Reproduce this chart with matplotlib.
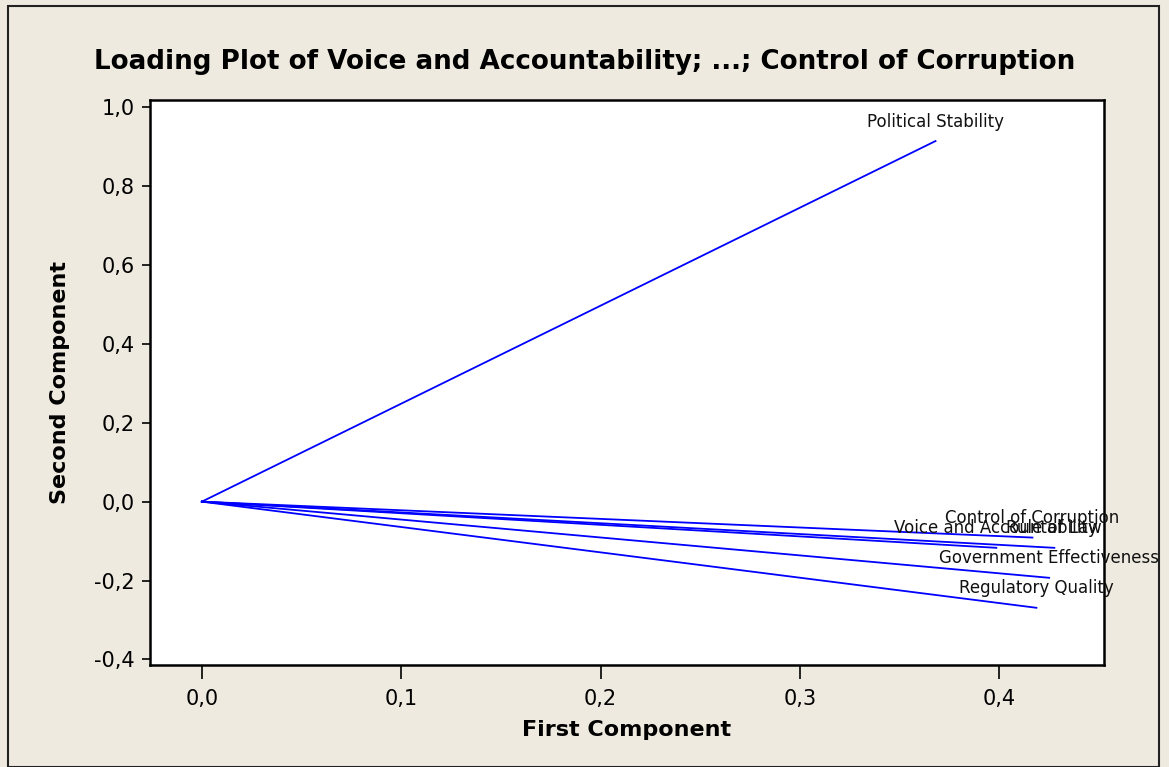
import matplotlib.pyplot as plt
from matplotlib.patches import Rectangle
from matplotlib.transforms import Bbox, TransformedBbox

# 载荷数据
variables = ['Voice and Accountability', 'Political Stability', 'Government Effectiveness',
             'Regulatory Quality', 'Rule of Law', 'Control of Corruption']
pc1 = [0.3985, 0.368, 0.425, 0.4186, 0.4276, 0.4166]
pc2 = [-0.117, 0.914, -0.193, -0.269, -0.117, -0.091]

x_ticks = [0.0, 0.1, 0.2, 0.3, 0.4]
y_ticks = [-0.4, -0.2, 0.0, 0.2, 0.4, 0.6, 0.8, 1.0]

title = 'Loading Plot of Voice and Accountability; ...; Control of Corruption'

bg = '#EEEAE0'
fig = plt.figure(figsize=(11.69, 7.67), dpi=100, facecolor=bg)

# 外框
fig.patches.append(Rectangle((8 / 1169, 0.0), 1151 / 1169, 761 / 767, transform=fig.transFigure,
                             fill=False, edgecolor='#222222', linewidth=1.5))

ax = fig.add_axes([150 / 1169, 102 / 767, 954 / 1169, 565 / 767])
ax.set_facecolor('white')

# 标签只在外框内裁剪
clip = TransformedBbox(Bbox([[0, 0], [1158 / 1169, 1]]), fig.transFigure)

for x, y, name in zip(pc1, pc2, variables):
    ax.plot([0, x], [0, y], color='#0000FF', linewidth=1.3)
    t = ax.annotate(name, (x, y), xytext=(0, 14), textcoords='offset points',
                    ha='center', va='center', fontsize=12, color='#111111',
                    annotation_clip=False, zorder=5)
    t.set_clip_box(clip)
    t.set_clip_on(True)

ax.set_xlim(-0.026, 0.4525)
ax.set_ylim(-0.414, 1.018)

ax.set_xticks(x_ticks)
ax.set_xticklabels([f'{v:.1f}'.replace('.', ',') for v in x_ticks])
ax.set_yticks(y_ticks)
ax.set_yticklabels([f'{v:.1f}'.replace('.', ',') for v in y_ticks])
ax.tick_params(axis='x', length=10, width=1.2, labelsize=15, pad=7)
ax.tick_params(axis='y', length=6, width=1.2, labelsize=15, pad=5)

for s in ax.spines.values():
    s.set_linewidth(1.8)

ax.set_xlabel('First Component', fontsize=16, fontweight='bold', va='center')
ax.set_ylabel('Second Component', fontsize=16, fontweight='bold', va='center')
ax.xaxis.set_label_coords(0.5, -65 / 565)
ax.yaxis.set_label_coords(-90 / 954, 0.5)

fig.text(0.5, 1 - 62 / 767, title, ha='center', va='center', fontsize=18.8, fontweight='bold')

plt.savefig('out.png', dpi=100, facecolor=bg)
